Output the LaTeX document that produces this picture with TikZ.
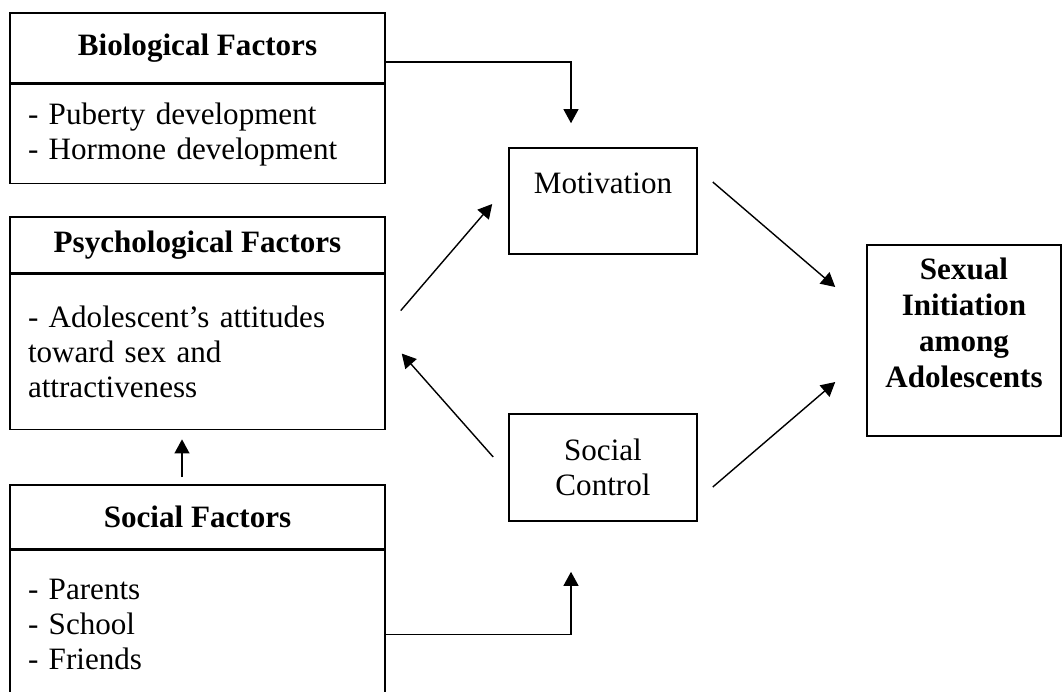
\documentclass[tikz,border=0pt]{standalone}
\usepackage{fontspec}
\setmainfont{Liberation Serif}
\usetikzlibrary{positioning,calc,arrows.meta}
\newcommand{\letra}{\fontsize{17.7}{19.9}\selectfont}
\tikzstyle{titulo}=[draw,line width=0.9pt,minimum width=7.5cm,inner sep=0pt,font=\letra\bfseries]
\tikzstyle{lista}=[draw,line width=0.9pt,minimum width=7.5cm,text width=6.78cm,inner xsep=0.36cm,inner ysep=0pt,align=left,font=\letra]
\tikzstyle{caja}=[draw,line width=0.9pt,minimum width=3.76cm,inner sep=0pt,align=center,font=\letra]
\tikzstyle{flecha}=[line width=0.8pt,-{Triangle[length=8pt,width=8.5pt]}]

\begin{document}
\begin{tikzpicture}[x=0.02cm,y=-0.02cm]
    \useasboundingbox (0,0) rectangle (1062,691);
    \node [titulo,minimum height=1.4cm] (bio) at (197.5,48) {Biological Factors};
    \node [lista,minimum height=1.98cm,below=0pt of bio] (biolista) {- Puberty development\\- Hormone development};
    \node [titulo,minimum height=1.12cm] (psico) at (197.5,245) {Psychological Factors};
    \node [lista,minimum height=3.1cm,below=0pt of psico] (psicolista) {- Adolescent’s attitudes\\toward sex and\\attractiveness};
    \node [titulo,minimum height=1.28cm] (social) at (197.5,517) {Social Factors};
    \node [lista,minimum height=2.96cm,below=0pt of social] (sociallista) {- Parents\\- School\\- Friends};
    \node [caja,minimum height=2.12cm] (motiv) at (603,201) {Motivation\\~};
    \node [caja,minimum height=2.14cm] (control) at (603,467.5) {Social\\Control};
    \node [caja,minimum width=3.88cm,minimum height=3.82cm,font=\fontsize{17.7}{20.5}\selectfont\bfseries] (inicio) at (964,340.5) {Sexual\\Initiation\\among\\Adolescents\\~};
    \draw [flecha] ($(bio.east)+(0,14)$) -| ($(motiv.north)+(-32,-24)$);
    \draw [flecha] ($(sociallista.east)+(0,10)$) -| ($(control.south)+(-32,50)$);
    \draw [flecha] ($(social.north)+(-15.5,-7)$) -- ($(psicolista.south)+(-15.5,9)$);
    \draw [flecha] ($(psicolista.east)+(15,-41.5)$) -- ($(motiv.west)+(-16,3)$);
    \draw [flecha] ($(control.west)+(-15,-10.5)$) -- ($(psicolista.east)+(16,1.5)$);
    \draw [flecha] ($(motiv.east)+(15,-19)$) -- ($(inicio.west)+(-31,-53.5)$);
    \draw [flecha] ($(control.east)+(15,19.5)$) -- ($(inicio.west)+(-31,41.5)$);
\end{tikzpicture}
\end{document}
